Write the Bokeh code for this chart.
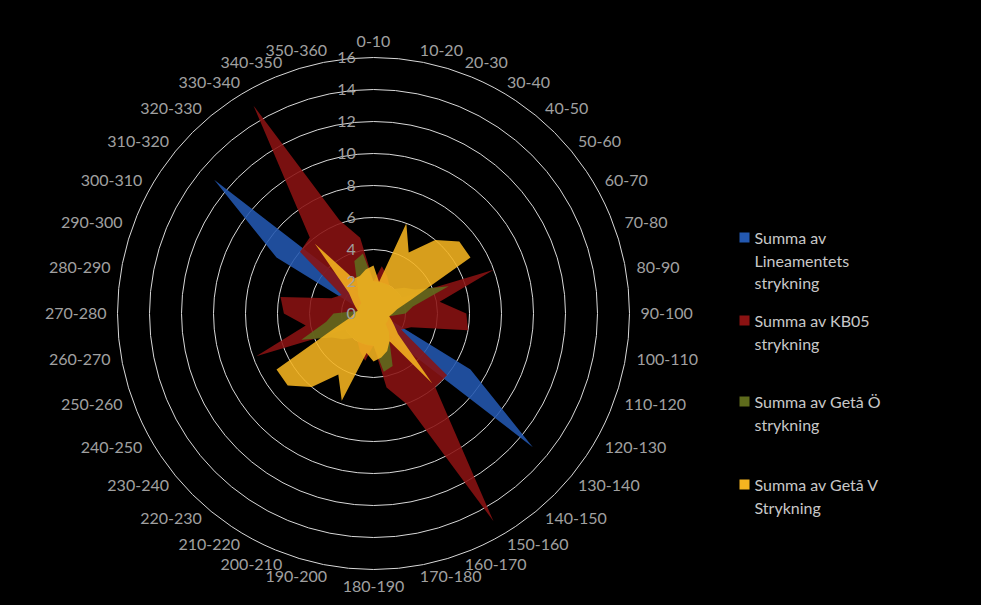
import math
from bokeh.plotting import figure
from bokeh.models import Range1d
from bokeh.core.properties import value
from bokeh.embed import file_html
from bokeh.resources import INLINE

# ---------------- data ----------------
categories = ["0-10", "10-20", "20-30", "30-40", "40-50", "50-60", "60-70", "70-80",
              "80-90", "90-100", "100-110", "110-120", "120-130", "130-140", "140-150",
              "150-160", "160-170", "170-180", "180-190", "190-200", "200-210", "210-220",
              "220-230", "230-240", "240-250", "250-260", "260-270", "270-280", "280-290",
              "290-300", "300-310", "310-320", "320-330", "330-340", "340-350", "350-360"]
radial_ticks = [0, 2, 4, 6, 8, 10, 12, 14, 16]

lineament = [0, 0, 0, 0, 0, 0, 0, 0, 0, 0, 0, 1, 7, 13, 2.5, 1, 0, 0,
             0, 0, 0, 0, 0, 0, 0, 0, 0, 0, 0, 1, 7, 13, 2.5, 1, 0, 0]
kb05 = [2, 3, 2.5, 2, 2, 2, 2, 8, 4.2, 5.8, 6, 2.5, 2, 6, 6, 15, 6, 4.7,
        2, 3, 2.5, 2, 2, 2, 2, 7.8, 4.3, 5.6, 5.9, 2.8, 2.3, 6, 6.2, 15, 6.2, 4.8]
geta_o = [2, 2, 2, 2, 2, 2.5, 3, 5, 2.5, 2, 1, 1, 1, 1, 1.5, 2, 3.5, 3.7,
          2, 2, 2, 2, 2, 2.5, 3, 4.8, 3, 2.5, 1, 1, 1, 1, 1.5, 2, 3.5, 3.8]
geta_v = [3, 2, 6, 4.4, 6, 7, 7, 2.5, 1.5, 1.2, 1, 1.2, 1.5, 2, 5.7, 2, 2.5, 2.8,
          3, 2.5, 5.8, 4.4, 6, 7, 7, 2.5, 1.5, 1.2, 1, 1.2, 1.5, 2, 5.7, 2.5, 2.5, 2.8]

series_values = [lineament, kb05, geta_o, geta_v]
series_colors = ["#2358B0", "#8A1212", "#5E6B1C", "#F5B420"]
legend_lines = [["Summa av", "Lineamentets", "strykning"],
                ["Summa av KB05", "strykning"],
                ["Summa av Getå Ö", "strykning"],
                ["Summa av Getå V", "Strykning"]]

# ---------------- layout ----------------
W, H = 975, 600
CX, CY = 373.0, 313.0      # chart centre (px from figure's top-left)
PX = 16.0                  # px per value unit
FONT = value("Lato")

p = figure(width=W, height=H, output_backend="svg", toolbar_location=None,
           x_range=Range1d(-CX / PX, (W - CX) / PX),
           y_range=Range1d(-(H - CY) / PX, CY / PX),
           x_axis_location=None, y_axis_location=None,
           min_border=0, background_fill_color="black",
           border_fill_color="black", outline_line_color=None)
p.grid.visible = False

# grid rings
rings = radial_ticks[1:]
p.circle(x=[0] * len(rings), y=[0] * len(rings), radius=rings,
         fill_color=None, line_color="#d9d9d9", line_width=1)

# series
n = len(categories)
angles = [2 * math.pi * i / n for i in range(n)]
for vals, col in zip(series_values, series_colors):
    xs = [v * math.sin(a) for v, a in zip(vals, angles)]
    ys = [v * math.cos(a) for v, a in zip(vals, angles)]
    p.patch(xs + xs[:1], ys + ys[:1], fill_color=col, fill_alpha=0.88,
            line_color=None)

# radial tick labels
p.text(x=[-1.1] * len(radial_ticks), y=radial_ticks,
       text=[str(t) for t in radial_ticks], text_align="right",
       text_baseline="middle", text_color="#a0a0a0", text_font=FONT,
       text_font_size="16px")

# category labels
R_LAB = 267.0 / PX
for lab, a in zip(categories, angles):
    s, c = math.sin(a), math.cos(a)
    x, y = R_LAB * s, R_LAB * c
    if abs(s) < 1e-6:
        align = "center"
        base = "bottom" if c > 0 else "top"
    else:
        align = "left" if s > 0 else "right"
        base = "middle"
    p.text(x=[x], y=[y], text=[lab], text_align=align, text_baseline=base,
           text_color="#a0a0a0", text_font=FONT, text_font_size="16px")

# legend (px -> data)
def dx(X):
    return (X - CX) / PX

def dy(Y):
    return (CY - Y) / PX

legend_y = [237, 320, 401, 484]
LINE = 22.7
for col, lines, y0 in zip(series_colors, legend_lines, legend_y):
    p.rect(x=[dx(744)], y=[dy(y0)], width=10, height=10, width_units="screen",
           height_units="screen", fill_color=col, line_color=None)
    for k, t in enumerate(lines):
        p.text(x=[dx(754)], y=[dy(y0 + k * LINE)], text=[t], text_align="left",
               text_baseline="middle", text_color="#c8c8c8", text_font=FONT,
               text_font_size="16px")

html = file_html(p, INLINE)
html = html.replace("</head>", "<style>html,body{background:#000;}</style></head>")
open("out.html", "w").write(html)
